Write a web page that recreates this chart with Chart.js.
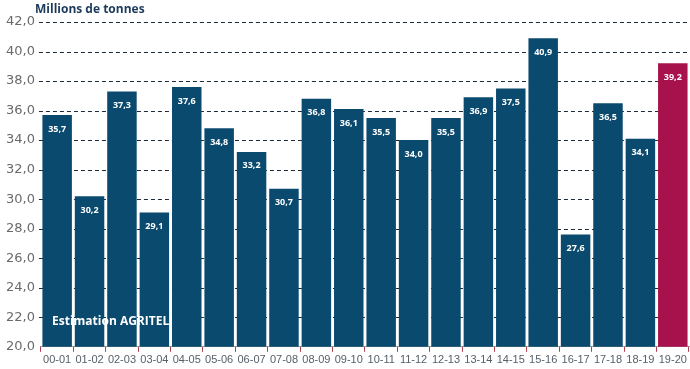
<!DOCTYPE html>
<html><head><meta charset="utf-8">
<script src="https://cdn.jsdelivr.net/npm/chart.js@4"></script>
<style>html,body{margin:0;padding:0;background:#fff}#w{width:690px;height:369px;position:relative}</style>
</head><body><div id="w"><canvas id="c"></canvas></div>
<script>
const categories = ["00-01","01-02","02-03","03-04","04-05","05-06","06-07","07-08","08-09","09-10","10-11","11-12","12-13","13-14","14-15","15-16","16-17","17-18","18-19","19-20"];
const production = [35.7,30.2,37.3,29.1,37.6,34.8,33.2,30.7,36.8,36.1,35.5,34.0,35.5,36.9,37.5,40.9,27.6,36.5,34.1,39.2];
const barColors = production.map((v,i)=> i===production.length-1 ? '#a8124c' : '#0b4a6f');
const yTitle = "Millions de tonnes";
const note = "Estimation AGRITEL";

const gridPlugin = {
  id:'dashgrid',
  beforeDatasetsDraw(chart){
    const ctx = chart.ctx, y = chart.scales.y, a = chart.chartArea;
    ctx.save();
    ctx.strokeStyle = '#1e2a38';
    ctx.lineWidth = 1;
    ctx.setLineDash([4,3]);
    y.ticks.forEach(t=>{
      if (t.value === y.min) return;
      const p = Math.round(y.getPixelForValue(t.value)) + 0.5;
      ctx.beginPath(); ctx.moveTo(a.left - 2, p); ctx.lineTo(a.right, p); ctx.stroke();
    });
    ctx.restore();
  }
};

const labelsPlugin = {
  id:'labels',
  afterDatasetsDraw(chart){
    const ctx = chart.ctx;
    const meta = chart.getDatasetMeta(0);
    ctx.save();
    ctx.fillStyle = '#ffffff';
    ctx.font = 'bold 9px "Open Sans", "DejaVu Sans", sans-serif';
    ctx.textAlign = 'center';
    ctx.textBaseline = 'middle';
    meta.data.forEach((b,i)=>{
      ctx.fillText(production[i].toFixed(1).replace('.',','), b.x, b.y + 14);
    });
    ctx.font = 'bold 12px "Open Sans", "DejaVu Sans", sans-serif';
    ctx.textAlign = 'left';
    ctx.fillText(note, 52, 322);
    ctx.fillStyle = '#1c3a5c';
    ctx.font = 'bold 12px "Open Sans", "DejaVu Sans", sans-serif';
    ctx.fillText(yTitle, 35, 10);
    ctx.restore();
  }
};

new Chart(document.getElementById('c'), {
  type:'bar',
  data:{labels:categories, datasets:[{data:production, backgroundColor:barColors, borderWidth:0, barPercentage:0.91, categoryPercentage:1.0}]},
  options:{
    responsive:true, maintainAspectRatio:false, animation:false,
    layout:{padding:{top:22, right:1, left:0, bottom:0}},
    plugins:{legend:{display:false}, tooltip:{enabled:false}},
    scales:{
      x:{
        offset:true,
        grid:{display:true, drawOnChartArea:false, offset:true, tickLength:5, color:'#b04050'},
        border:{display:true, color:'#999999', width:1},
        ticks:{color:'#55606a', font:{size:11, family:'"Liberation Sans", Arial, sans-serif'}, padding:2, maxRotation:0, autoSkip:false}
      },
      y:{
        min:20, max:42,
        ticks:{stepSize:2, color:'#6a6a6a', font:{size:13, family:'"DejaVu Sans", sans-serif'}, padding:6, callback:v=>v.toFixed(1).replace('.',',')},
        grid:{display:false, drawTicks:false},
        border:{display:false}
      }
    }
  },
  plugins:[gridPlugin, labelsPlugin]
});
</script></body></html>
